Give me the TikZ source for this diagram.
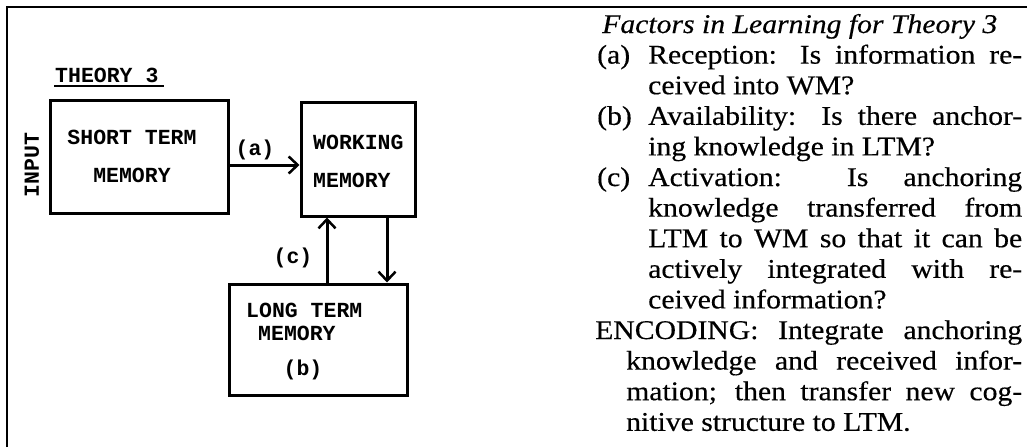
\documentclass[tikz,border=0pt]{standalone}
\usepackage{fontspec}
\setmainfont{Liberation Serif}[FakeStretch=1.1,FakeBold=0.4]
\newfontfamily\hand{Liberation Mono}
\usetikzlibrary{arrows.meta,calc}
\tikzset{
  box/.style={draw, line width=3pt, inner sep=0pt},
  hnd/.style={font=\hand\bfseries\fontsize{21.5}{38}\selectfont, inner sep=0pt},
  arr/.style={line width=3pt, -{Straight Barb[length=9pt,width=17pt,line width=2.5pt]}},
  txt/.style={font=\fontsize{27}{30}\selectfont, inner sep=0pt, anchor=base west},
  frame/.style={line width=2.5pt}
}
\begin{document}
\begin{tikzpicture}[x=1pt,y=-1pt]
\useasboundingbox (0,0) rectangle (1027,447);
% frame
\coordinate (fbl) at (7,447);
\coordinate (ftl) at (7,7);
\coordinate (ftr) at (1027,7);
\draw[frame] (fbl) -- (ftl) -- (ftr);

% title of diagram
\node[hnd, anchor=base west] (theory) at (55,82) {THEORY 3};
\draw[line width=1.5pt] ($(theory.base west)+(-1,4)$) -- ($(theory.base east)+(5,4)$);
\node[hnd, rotate=90] (input) at (32,165) {INPUT};

% boxes
\node[box, minimum width=178pt, minimum height=113pt] (stm) at (139,156.5) {};
\node[box, minimum width=114pt, minimum height=114pt] (wm) at (358,159) {};
\node[box, minimum width=178pt, minimum height=111pt] (ltm) at (318,339.5) {};

% box texts
\node[hnd, align=center] (stmt) at (132,156) {SHORT TERM\\MEMORY};
\node[hnd, anchor=west, align=left] (wmt) at (313,161) {WORKING\\MEMORY};
\node[hnd, anchor=west] (ltm1) at (246,310) {LONG TERM};
\node[hnd, anchor=west] (ltm2) at (258,333) {MEMORY};
\node[hnd] (ltmb) at (303,370) {(b)};

% connectors
\coordinate (upx) at (327,0);
\coordinate (dnx) at (387,0);
\draw[arr] ($(stm.east)+(0,8.5)$) -- ($(wm.west)+(0,6)$);
\draw[arr] (ltm.north -| upx) -- (wm.south -| upx);
\draw[arr] (wm.south -| dnx) -- (ltm.north -| dnx);
\node[hnd] (la) at (255,150) {(a)};
\node[hnd] (lc) at (293,258) {(c)};

% right text
\node[txt] (r0) at (602,33) {\textit{Factors in Learning for Theory 3}};
\node[txt] (r1a) at (597,63.6) {(a)};
\node[txt] (r1) at (648,63.6) {\makebox[374pt][s]{Reception: Is information re-}};
\node[txt] (r2) at (648,94.2) {ceived into WM?};
\node[txt] (r3a) at (597,124.8) {(b)};
\node[txt] (r3) at (648,124.8) {\makebox[374pt][s]{Availability: Is there anchor-}};
\node[txt] (r4) at (648,155.4) {ing knowledge in LTM?};
\node[txt] (r5a) at (597,186) {(c)};
\node[txt] (r5) at (648,186) {\makebox[374pt][s]{Activation: Is anchoring}};
\node[txt] (r6) at (648,216.6) {\makebox[374pt][s]{knowledge transferred from}};
\node[txt] (r7) at (648,247.2) {\makebox[374pt][s]{LTM to WM so that it can be}};
\node[txt] (r8) at (648,277.8) {\makebox[374pt][s]{actively integrated with re-}};
\node[txt] (r9) at (648,308.4) {ceived information?};
\node[txt] (r10) at (595,339) {\makebox[427pt][s]{ENCODING: Integrate anchoring}};
\node[txt] (r11) at (626,369.6) {\makebox[396pt][s]{knowledge and received infor-}};
\node[txt] (r12) at (626,400.2) {\makebox[396pt][s]{mation; then transfer new cog-}};
\node[txt] (r13) at (626,430.8) {nitive structure to LTM.};
\end{tikzpicture}
\end{document}
